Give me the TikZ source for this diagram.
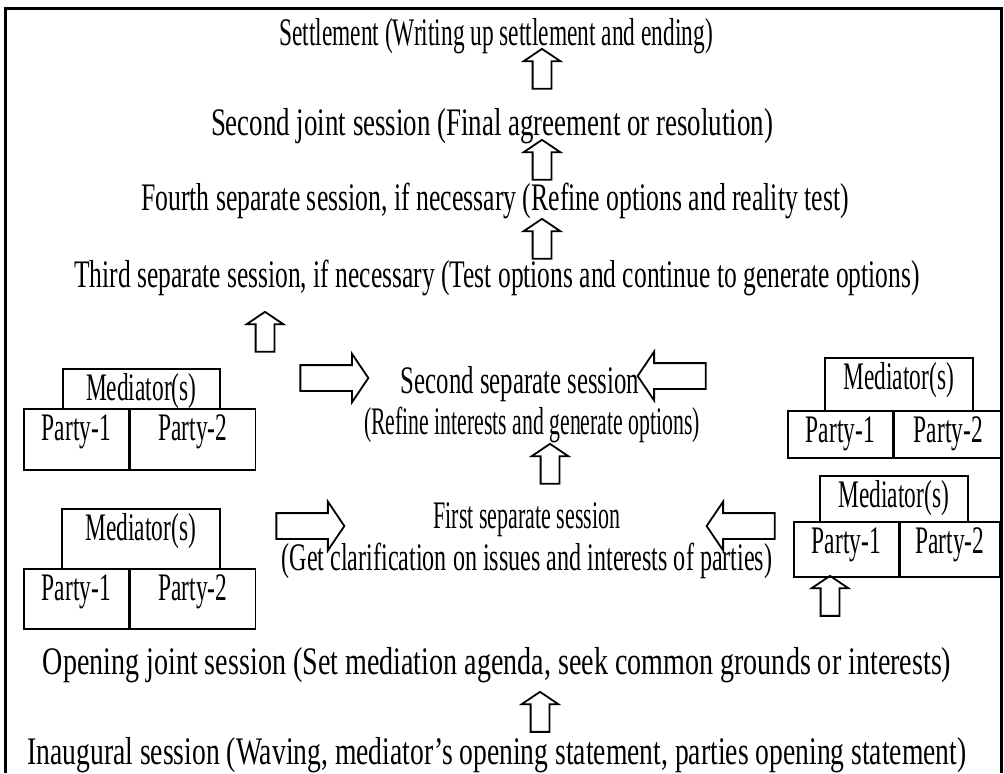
\documentclass[tikz,border=0pt]{standalone}
\usepackage{fontspec}
\setmainfont{Liberation Serif}[FakeStretch=0.6]
\usetikzlibrary{shapes.arrows,positioning}

\begin{document}
\begin{tikzpicture}[x=0.5pt,y=-0.5pt,
    font=\fontsize{19.5}{22}\selectfont,
    stage/.style={anchor=base,inner sep=0pt},
    cell/.style={draw,line width=0.8pt,inner sep=0pt,text height=16pt,anchor=north west},
    uparr/.style={single arrow,draw,line width=0.9pt,rotate=90,inner xsep=0pt,inner ysep=4.25pt,
      single arrow head extend=4.5pt,single arrow tip angle=112,minimum height=20pt},
    sidearr/.style={single arrow,draw,line width=0.9pt,inner xsep=0pt,inner ysep=6pt,
      single arrow head extend=5.75pt,single arrow tip angle=112,minimum height=34pt}]
  \useasboundingbox (0,0) rectangle (1004,773);
  \draw[line width=1.5pt] (5,773) -- (5,8) -- (1001,8) -- (1001,773);

  % stages
  \node[stage] (settle) at (496,45) {Settlement (Writing up settlement and ending)};
  \node[stage] (joint2) at (492,135) {\scalebox{1.15}[1]{Second joint session (Final agreement or resolution)}};
  \node[stage] (sep4) at (495,210) {\scalebox{1.1}[1]{Fourth separate session, if necessary (Refine options and reality test)}};
  \node[stage] (sep3) at (497,287) {\scalebox{1.09}[1]{Third separate session, if necessary (Test options and continue to generate options)}};
  \node[stage] (sep2) at (520,393) {\scalebox{1.06}[1]{Second separate session}};
  \node[stage] (sep2b) at (532,434) {\scalebox{0.93}[1]{(Refine interests and generate options)}};
  \node[stage] (sep1) at (527,528) {\scalebox{0.94}[1]{First separate session}};
  \node[stage] (sep1b) at (527,570) {\scalebox{1.03}[1]{(Get clarification on issues and interests of parties)}};
  \node[stage] (open) at (497,674) {\scalebox{1.2}[1]{Opening joint session (Set mediation agenda, seek common grounds or interests)}};
  \node[stage] (inaug) at (497,764) {\scalebox{1.18}[1]{Inaugural session (Waving, mediator’s opening statement, parties opening statement)}};

  % mediator and parties, left
  \node[cell,minimum width=78.5pt,text depth=4pt] (lu-med) at (62,368) {Mediator(s)};
  \node[cell,minimum width=52.5pt,text depth=14.5pt] (lu-p1) at (23,408) {Party-1};
  \node[cell,minimum width=62.5pt,text depth=14.5pt,right=0pt of lu-p1] (lu-p2) {Party-2};
  \node[cell,minimum width=79pt,text depth=14pt] (ll-med) at (61,508) {Mediator(s)};
  \node[cell,minimum width=52.5pt,text depth=14pt] (ll-p1) at (23,568) {Party-1};
  \node[cell,minimum width=62.5pt,text depth=14pt,right=0pt of ll-p1] (ll-p2) {Party-2};

  % mediator and parties, right
  \node[cell,minimum width=74pt,text depth=10.5pt] (ru-med) at (824,357) {Mediator(s)};
  \node[cell,minimum width=52.5pt,text depth=7.5pt] (ru-p1) at (787,410) {Party-1};
  \node[cell,minimum width=54pt,text depth=7.5pt,right=0pt of ru-p1] (ru-p2) {Party-2};
  \node[cell,minimum width=74pt,text depth=7pt] (rl-med) at (819,475) {Mediator(s)};
  \node[cell,minimum width=52.5pt,text depth=11.5pt] (rl-p1) at (793,521) {Party-1};
  \node[cell,minimum width=49.5pt,text depth=11.5pt,right=0pt of rl-p1] (rl-p2) {Party-2};

  % block arrows
  \node[uparr] (up1) at (542,72) {};
  \node[uparr] (up2) at (542,163) {};
  \node[uparr] (up3) at (542,242) {};
  \node[uparr] (up4) at (265,335) {};
  \node[uparr] (up5) at (550,467) {};
  \node[uparr] (up6) at (830,599) {};
  \node[uparr] (up7) at (540,715) {};
  \node[sidearr] (in-lu) at (330,378) {};
  \node[sidearr,rotate=180] (in-ru) at (676,376) {};
  \node[sidearr] (in-ll) at (306,526) {};
  \node[sidearr,rotate=180] (in-rl) at (745,526) {};
\end{tikzpicture}
\end{document}
